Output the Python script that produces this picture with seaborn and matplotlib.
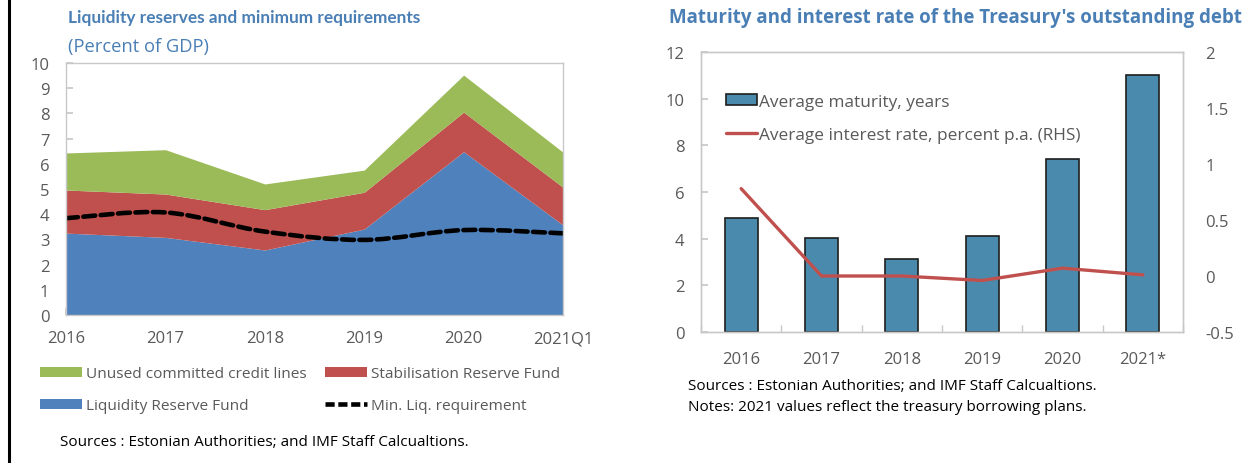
import numpy as np
import pandas as pd
import matplotlib
matplotlib.use("Agg")
import matplotlib.pyplot as plt
from matplotlib.path import Path
from matplotlib.patches import PathPatch, Patch
from matplotlib.lines import Line2D
import seaborn as sns

# ---- data: liquidity reserves (percent of GDP) ----
periods = ["2016", "2017", "2018", "2019", "2020", "2021Q1"]
liquidity_reserve_fund = [3.25, 3.08, 2.58, 3.41, 6.48, 3.57]
stabilisation_reserve_fund = [1.71, 1.72, 1.60, 1.46, 1.57, 1.50]
unused_credit_lines = [1.47, 1.76, 1.02, 0.88, 1.47, 1.39]
min_liq_requirement = [3.84, 4.07, 3.31, 2.98, 3.37, 3.24]

# ---- data: treasury debt ----
years = ["2016", "2017", "2018", "2019", "2020", "2021*"]
avg_maturity = [4.89, 4.03, 3.14, 4.10, 7.41, 11.0]
avg_interest = [0.78, 0.0, 0.0, -0.04, 0.07, 0.01]

GREEN = "#9BBB59"
RED = "#C0504D"
BLUE = "#4F81BD"
BAR = "#4A8BAD"
TITLE = "#4A7FB5"
TICK = "#595959"
FRAME = "#C8C8C8"

sns.set_theme(style="white")
plt.rcParams["font.family"] = ["Open Sans", "DejaVu Sans"]

fig = plt.figure(figsize=(12.48, 4.64), dpi=100)
W, H = 1248, 464


def fx(px):
    return px / W


def fy(py):
    return 1 - py / H


def style_frame(ax):
    for s in ax.spines.values():
        s.set_visible(True)
        s.set_color(FRAME)
        s.set_linewidth(1.0)


# ================= left panel =================
axL = fig.add_axes([fx(66), fy(316), fx(563) - fx(66), fy(64) - fy(316)])
x = np.arange(len(periods))
axL.stackplot(x, liquidity_reserve_fund, stabilisation_reserve_fund,
              unused_credit_lines, colors=[BLUE, RED, GREEN], linewidth=0)


def smooth_path(xs, ys):
    # cubic Bezier segments (Catmull-Rom style) through the data points
    pts = np.column_stack([xs, ys]).astype(float)
    n = len(pts)
    verts = [pts[0]]
    codes = [Path.MOVETO]
    for i in range(n - 1):
        p0 = pts[i - 1] if i > 0 else pts[i]
        p1 = pts[i]
        p2 = pts[i + 1]
        p3 = pts[i + 2] if i + 2 < n else pts[i + 1]
        c1 = p1 + (p2 - p0) / 6.0
        c2 = p2 - (p3 - p1) / 6.0
        verts += [c1, c2, p2]
        codes += [Path.CURVE4] * 3
    return Path(verts, codes)


axL.add_patch(PathPatch(smooth_path(x, min_liq_requirement), fill=False,
                        edgecolor="black", linewidth=3.3,
                        linestyle=(0, (2.6, 1.2)), capstyle="round"))

axL.set_xlim(0, 5)
axL.set_ylim(0, 10)
axL.set_yticks(range(0, 11))
axL.set_xticks(x)
axL.set_xticklabels(periods)
style_frame(axL)
axL.tick_params(axis="both", direction="in", length=5, color=FRAME,
                labelcolor=TICK, labelsize=12)
axL.tick_params(axis="y", pad=12)
axL.tick_params(axis="x", pad=11)
axL.tick_params(left=True, bottom=True)
axL.set_xlabel("")
axL.set_ylabel("")

fig.text(fx(68), fy(18), "Liquidity reserves and minimum requirements",
         color=TITLE, fontsize=12.4, fontweight="bold", va="center", ha="left",
         family=["Lato", "DejaVu Sans"])
fig.text(fx(68), fy(47), "(Percent of GDP)", color=TITLE, fontsize=13.2,
         va="center", ha="left")

handlesL = [Patch(facecolor=GREEN, edgecolor="none"),
            Patch(facecolor=BLUE, edgecolor="none"),
            Patch(facecolor=RED, edgecolor="none"),
            Line2D([], [], color="black", linewidth=3.3,
                   linestyle=(0, (2.0, 0.8)))]
labelsL = ["Unused committed credit lines", "Liquidity Reserve Fund",
           "Stabilisation Reserve Fund", "Min. Liq. requirement"]
legL = fig.legend(handlesL, labelsL, ncol=2, loc="upper left",
                  bbox_to_anchor=(fx(40), fy(367)), frameon=False,
                  fontsize=11.1, handlelength=2.75, handleheight=0.62,
                  handletextpad=0.25, columnspacing=1.15, labelspacing=1.12,
                  borderpad=0, borderaxespad=0)
for t in legL.get_texts():
    t.set_color(TICK)

fig.text(fx(60), fy(443), "Sources : Estonian Authorities; and IMF Staff Calcualtions.",
         color="black", fontsize=11, va="center", ha="left")

# ================= right panel =================
axR = fig.add_axes([fx(701), fy(333), fx(1183) - fx(701), fy(53) - fy(333)])
df = pd.DataFrame({"year": years, "maturity": avg_maturity})
sns.barplot(data=df, x="year", y="maturity", ax=axR, color=BAR,
            saturation=1, width=0.41, edgecolor="#1E1E1E", linewidth=1.2)
axR.set_xlim(-0.5, len(years) - 0.5)
axR.set_ylim(0, 12)
axR.set_yticks(range(0, 13, 2))
axR.set_xticks(np.arange(len(years)))
axR.set_xticklabels(years)
axR.set_xticks(np.arange(len(years) + 1) - 0.5, minor=True)
axR.set_xlabel("")
axR.set_ylabel("")
style_frame(axR)
axR.tick_params(axis="x", which="major", length=0, pad=14,
                labelcolor=TICK, labelsize=12)
axR.tick_params(axis="x", which="minor", direction="in", length=5,
                color=FRAME, bottom=True)
axR.tick_params(axis="y", direction="in", length=5, color=FRAME,
                labelcolor=TICK, labelsize=12, pad=12, left=True)

axR2 = axR.twinx()
dfl = pd.DataFrame({"pos": np.arange(len(years)), "rate": avg_interest})
sns.lineplot(data=dfl, x="pos", y="rate", ax=axR2, color=RED,
             linewidth=2.4, legend=False)
axR2.set_ylim(-0.5, 2)
axR2.set_yticks([-0.5, 0, 0.5, 1, 1.5, 2])
axR2.set_yticklabels(["-0.5", "0", "0.5", "1", "1.5", "2"])
axR2.set_ylabel("")
axR2.set_xlabel("")
style_frame(axR2)
axR2.tick_params(axis="y", length=0, labelcolor=TICK, labelsize=12, pad=16)
axR2.set_xlim(-0.5, len(years) - 0.5)

handlesR = [Patch(facecolor=BAR, edgecolor="#1E1E1E", linewidth=1.2),
            Line2D([], [], color=RED, linewidth=2.4)]
labelsR = ["Average maturity, years",
           "Average interest rate, percent p.a. (RHS)"]
legR = fig.legend(handlesR, labelsR, loc="upper left",
                  bbox_to_anchor=(fx(726), fy(95)), frameon=False,
                  fontsize=12.4, handlelength=1.8, handleheight=0.6,
                  handletextpad=0.1, labelspacing=0.97,
                  borderpad=0, borderaxespad=0)
for t in legR.get_texts():
    t.set_color(TICK)

fig.text(fx(669), fy(18), "Maturity and interest rate of the Treasury's outstanding debt",
         color=TITLE, fontsize=13.5, fontweight="bold", va="center", ha="left")
fig.text(fx(688), fy(387), "Sources : Estonian Authorities; and IMF Staff Calcualtions.",
         color="black", fontsize=11, va="center", ha="left")
fig.text(fx(688), fy(408), "Notes: 2021 values reflect the treasury borrowing plans.",
         color="black", fontsize=11, va="center", ha="left")

# left border rule
fig.add_artist(Line2D([fx(9), fx(9)], [0, 1], color="black", linewidth=2.2,
                      transform=fig.transFigure))

fig.savefig("out.png", dpi=100)
